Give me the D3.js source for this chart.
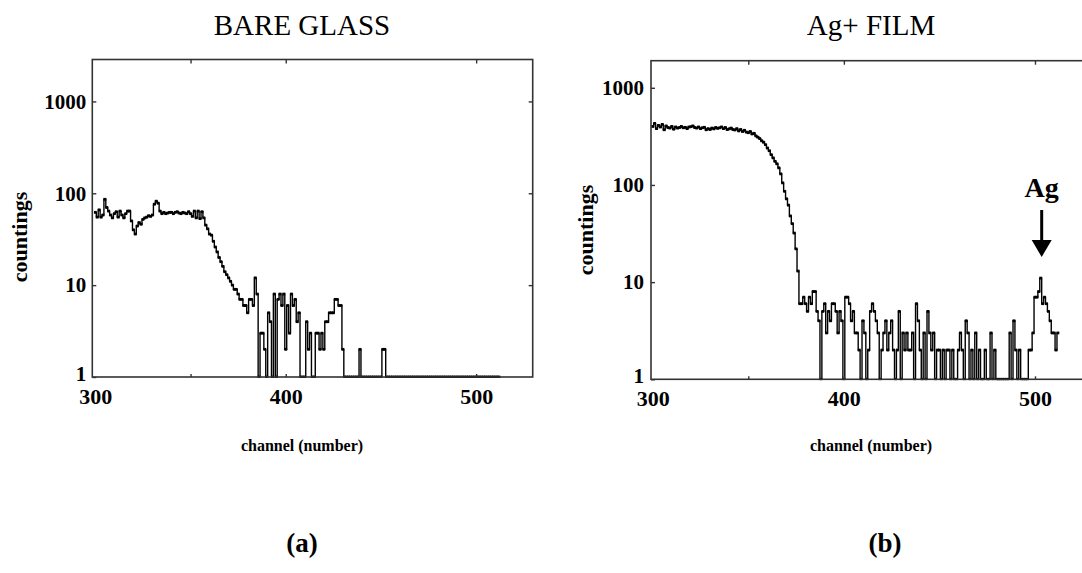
<!DOCTYPE html>
<html>
<head>
<meta charset="utf-8">
<script src="https://cdn.jsdelivr.net/npm/d3@7/dist/d3.min.js"></script>
<style>
  body { margin: 0; background: #fff; }
  text { font-family: "Liberation Serif", "Times New Roman", serif; font-weight: bold; fill: #000; }
</style>
</head>
<body>
<svg id="chart" width="1082" height="573"></svg>
<script>
// first channel of both spectra, one count per channel
var startChannel = 300;

// (a) bare glass
var glassCounts = [
  62, 55, 66, 55, 58, 86, 70, 64, 58, 54,
  60, 63, 55, 64, 58, 54, 60, 64, 64, 50,
  40, 36, 44, 48, 46, 52, 54, 55, 57, 56,
  58, 76, 82, 78, 64, 60, 62, 60, 61, 62,
  62, 60, 62, 63, 61, 60, 62, 61, 60, 63,
  60, 56, 64, 54, 64, 53, 63, 54, 45, 41,
  36, 35, 30, 26, 23, 20, 18, 16, 14, 13,
  12, 11, 10, 9, 9, 8, 7, 7, 6, 6,
  5, 7, 7, 6, 12, 8, 1, 3, 3, 2,
  1, 5, 4, 1, 8, 1, 7, 8, 6, 8,
  2, 6, 3, 8, 6, 7, 4, 5, 1, 1,
  1, 4, 2, 3, 1, 1, 3, 3, 2, 3,
  2, 4, 4, 5, 5, 5, 7, 7, 6, 6,
  2, 1, 1, 1, 1, 1, 1, 1, 1, 2,
  1, 1, 1, 1, 1, 1, 1, 1, 1, 1,
  1, 2, 2, 1, 1, 1, 1, 1, 1, 1,
  1, 1, 1, 1, 1, 1, 1, 1, 1, 1,
  1, 1, 1, 1, 1, 1, 1, 1, 1, 1,
  1, 1, 1, 1, 1, 1, 1, 1, 1, 1,
  1, 1, 1, 1, 1, 1, 1, 1, 1, 1,
  1, 1, 1, 1, 1, 1, 1, 1, 1, 1,
  1, 1, 1
];

// (b) Ag+ film
var filmCounts = [
  400, 430, 380, 410, 395, 420, 370, 405, 390, 385,
  400, 375, 395, 385, 390, 400, 388, 392, 380, 395,
  398, 405, 390, 385, 395, 380, 388, 392, 370, 380,
  372, 385, 378, 390, 382, 388, 395, 380, 390, 372,
  378, 385, 372, 368, 380, 360, 372, 355, 365, 350,
  345, 355, 335, 340, 320, 310, 300, 285, 275, 260,
  240, 225, 205, 190, 175, 165, 150, 130, 105, 86,
  72, 62, 48, 40, 32, 22, 13, 6, 6, 7,
  6, 5, 7, 6, 8, 8, 5, 4, 1, 5,
  6, 3, 5, 4, 6, 6, 5, 3, 5, 4,
  1, 7, 7, 6, 4, 5, 3, 3, 2, 1,
  4, 3, 1, 2, 5, 6, 5, 4, 3, 1,
  2, 3, 4, 2, 3, 4, 2, 1, 2, 5,
  1, 3, 2, 3, 2, 2, 3, 1, 6, 4,
  2, 1, 3, 1, 5, 3, 2, 3, 1, 2,
  2, 1, 2, 1, 2, 2, 1, 2, 1, 1,
  2, 3, 2, 1, 4, 3, 1, 2, 1, 3,
  1, 2, 1, 1, 2, 1, 1, 3, 1, 2,
  1, 1, 1, 1, 1, 1, 1, 3, 1, 4,
  2, 1, 2, 1, 1, 1, 1, 2, 2, 3,
  7, 7, 8, 11, 6, 7, 6, 5, 4, 3,
  3, 2, 3
];

var xLabelTicks = [300, 400, 500];
var xMarkTicks = [350, 400, 500];
var yTicks = [1, 10, 100, 1000];
var titles = ["BARE GLASS", "Ag+ FILM"];
var tags = ["(a)", "(b)"];
var agChannel = 503;

var svg = d3.select("#chart");

function toPoints(counts) {
  return counts.map(function(v, i) { return { ch: startChannel + i, v: v }; });
}

function drawPanel(p) {
  var x = d3.scaleLinear().domain(p.xDomain).range([p.left, p.right]);
  var y = d3.scaleLog().domain(p.yDomain).range([p.bottom, p.top]).clamp(true);
  var g = svg.append("g");

  g.append("clipPath").attr("id", p.id + "-clip")
    .append("rect")
    .attr("x", p.left).attr("y", p.top - 2)
    .attr("width", p.right - p.left).attr("height", p.bottom - p.top + 3);

  // data as a step trace with small dots on every channel
  var pts = toPoints(p.counts);
  var line = d3.line()
    .x(function(d) { return x(d.ch); })
    .y(function(d) { return y(d.v); })
    .curve(d3.curveStep);

  var plot = g.append("g").attr("clip-path", "url(#" + p.id + "-clip)");
  plot.append("path")
    .datum(pts)
    .attr("fill", "none")
    .attr("stroke", "#000")
    .attr("stroke-width", 1.4)
    .attr("d", line);
  plot.selectAll("rect.dot")
    .data(pts)
    .enter().append("rect")
    .attr("class", "dot")
    .attr("x", function(d) { return x(d.ch) - 1.4; })
    .attr("y", function(d) { return y(d.v) - 1.4; })
    .attr("width", 2.8).attr("height", 2.8)
    .attr("fill", "#000");

  // frame
  g.append("rect")
    .attr("x", p.left).attr("y", p.top)
    .attr("width", p.right - p.left).attr("height", p.bottom - p.top)
    .attr("fill", "none").attr("stroke", "#333").attr("stroke-width", 1.6);

  // y axis, labels on the left, inward ticks on both sides
  var yl = g.append("g")
    .attr("transform", "translate(" + p.left + ",0)")
    .call(d3.axisLeft(y).tickValues(yTicks).tickFormat(d3.format("d"))
      .tickSize(-4).tickSizeOuter(0).tickPadding(p.yPad));
  yl.selectAll("text").style("font-size", "21px");
  yl.selectAll(".tick").filter(function(d) { return d === 1; })
    .select("text").attr("dy", "0.15em");
  g.append("g")
    .attr("transform", "translate(" + p.right + ",0)")
    .call(d3.axisRight(y).tickValues(yTicks.slice(1)).tickSize(-4).tickSizeOuter(0).tickFormat(""));

  // x axis labels and inward ticks top and bottom
  var xl = g.append("g")
    .attr("transform", "translate(0," + p.bottom + ")")
    .call(d3.axisBottom(x).tickValues(xLabelTicks).tickFormat(d3.format("d"))
      .tickSize(0).tickSizeOuter(0).tickPadding(11));
  xl.selectAll("text").style("font-size", "22px");
  g.append("g")
    .attr("transform", "translate(0," + p.bottom + ")")
    .call(d3.axisBottom(x).tickValues(xMarkTicks).tickSize(-3).tickSizeOuter(0).tickFormat(""));
  g.append("g")
    .attr("transform", "translate(0," + p.top + ")")
    .call(d3.axisTop(x).tickValues(xMarkTicks).tickSize(-4).tickSizeOuter(0).tickFormat(""));

  g.selectAll(".domain").remove();
  g.selectAll(".tick line").attr("stroke", "#333").attr("stroke-width", 1.4);

  // texts
  g.append("text")
    .attr("x", p.titleX).attr("y", 35)
    .attr("text-anchor", "middle")
    .style("font-size", "29px")
    .style("font-weight", "normal")
    .text(p.title);
  g.append("text")
    .attr("transform", "translate(" + p.yLabelX + "," + p.yLabelY + ") rotate(-90)")
    .attr("text-anchor", "middle")
    .attr("dy", "0.35em")
    .style("font-size", "22px")
    .text("countings");
  g.append("text")
    .attr("x", p.titleX).attr("y", 451)
    .attr("text-anchor", "middle")
    .style("font-size", "16px")
    .text("channel (number)");
  g.append("text")
    .attr("x", p.tagX).attr("y", 552)
    .attr("text-anchor", "middle")
    .style("font-size", "27px")
    .text(p.tag);

  return { x: x, y: y };
}

drawPanel({
  id: "glass", counts: glassCounts,
  left: 92.3, right: 532.7, top: 59.5, bottom: 377,
  xDomain: [298.4, 529.7], yDomain: [1, 2860],
  title: titles[0], tag: tags[0],
  titleX: 302, tagX: 302, yLabelX: 19, yLabelY: 237, yPad: 6
});

var film = drawPanel({
  id: "film", counts: filmCounts,
  left: 651, right: 1091, top: 60.7, bottom: 379.3,
  xDomain: [299.1, 529.3], yDomain: [1, 1900],
  title: titles[1], tag: tags[1],
  titleX: 871, tagX: 885, yLabelX: 585, yLabelY: 230, yPad: 7
});

// Ag peak marker
var ax = film.x(agChannel + 0.5);
svg.append("text")
  .attr("x", ax).attr("y", 197)
  .attr("text-anchor", "middle")
  .style("font-size", "28px")
  .text("Ag");
svg.append("line")
  .attr("x1", ax).attr("x2", ax)
  .attr("y1", 210).attr("y2", 244)
  .attr("stroke", "#000").attr("stroke-width", 3);
svg.append("path")
  .attr("d", "M" + (ax - 10) + ",240 L" + (ax + 10) + ",240 L" + ax + ",257 Z")
  .attr("fill", "#000");
</script>
</body>
</html>
